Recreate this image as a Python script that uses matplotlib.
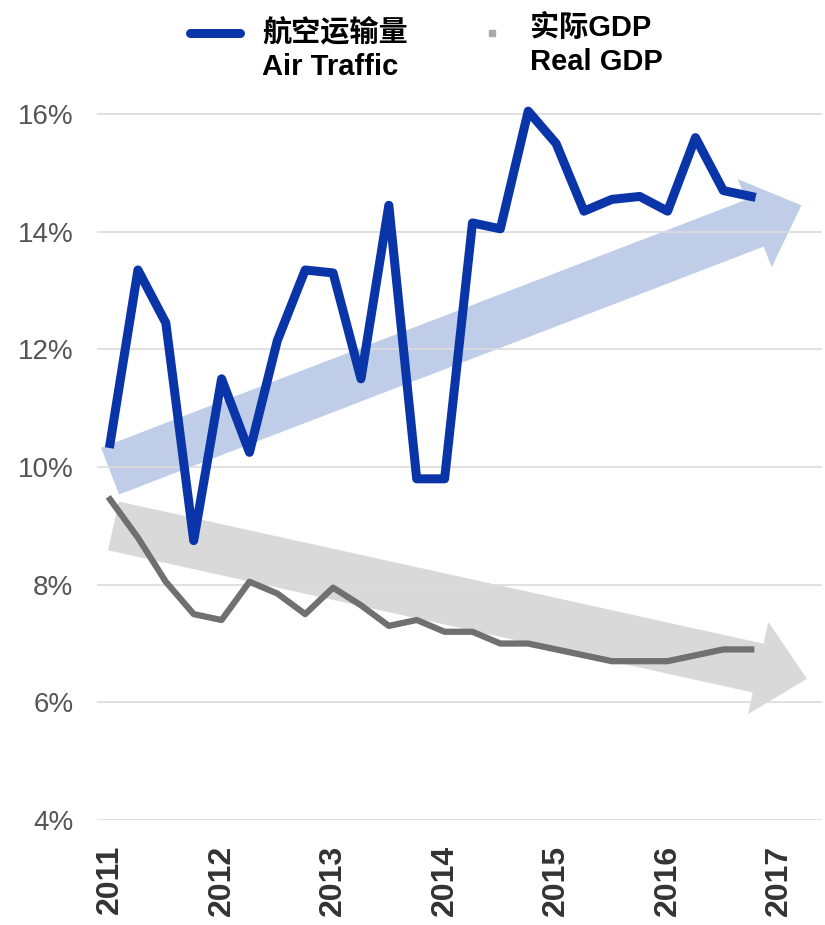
import matplotlib
matplotlib.use("Agg")
import matplotlib.pyplot as plt
from matplotlib.patches import FancyArrowPatch
from matplotlib.lines import Line2D

# quarterly data (% year on year)
quarters = [2011.0, 2011.25, 2011.5, 2011.75,
            2012.0, 2012.25, 2012.5, 2012.75,
            2013.0, 2013.25, 2013.5, 2013.75,
            2014.0, 2014.25, 2014.5, 2014.75,
            2015.0, 2015.25, 2015.5, 2015.75,
            2016.0, 2016.25, 2016.5, 2016.75]
air_traffic = [10.4, 13.35, 12.45, 8.75, 11.5, 10.25, 12.15, 13.35,
               13.3, 11.5, 14.45, 9.8, 9.8, 14.15, 14.05, 16.05,
               15.5, 14.35, 14.55, 14.6, 14.35, 15.6, 14.7, 14.6]
real_gdp = [9.45, 8.8, 8.05, 7.5, 7.4, 8.05, 7.85, 7.5,
            7.95, 7.65, 7.3, 7.4, 7.2, 7.2, 7.0, 7.0,
            6.9, 6.8, 6.7, 6.7, 6.7, 6.8, 6.9, 6.9]

# trend arrows (start, end) in data units
air_trend = [(2011.0, 9.93), (2017.2, 14.45)]
gdp_trend = [(2011.03, 9.0), (2017.25, 6.4)]

year_ticks = [2011, 2012, 2013, 2014, 2015, 2016, 2017]
y_ticks = [4, 6, 8, 10, 12, 14, 16]
y_labels = ["4%", "6%", "8%", "10%", "12%", "14%", "16%"]

blue = "#0a35a8"
grey = "#707070"
fam = ["Liberation Sans", "Noto Sans CJK SC", "DejaVu Sans"]

fig = plt.figure(figsize=(8.25, 9.25), dpi=100)
ax = fig.add_axes([0.1176, 0.1135, 0.8788, 0.7835])

arrow_style = "simple,head_length=36,head_width=68,tail_width=36"
a1 = FancyArrowPatch(gdp_trend[0], gdp_trend[1], arrowstyle=arrow_style,
                     mutation_scale=1, shrinkA=0, shrinkB=0,
                     color="#d9d9d9", lw=0, zorder=1)
a2 = FancyArrowPatch(air_trend[0], air_trend[1], arrowstyle=arrow_style,
                     mutation_scale=1, shrinkA=0, shrinkB=0,
                     color="#bfcde8", lw=0, zorder=1)
ax.add_patch(a1)
ax.add_patch(a2)

ax.plot(quarters, real_gdp, color=grey, lw=4.5, zorder=3)
ax.plot(quarters, air_traffic, color=blue, lw=6.5, zorder=4)

ax.set_xlim(2010.883, 2017.385)
ax.set_ylim(4, 16.32)
ax.set_yticks(y_ticks)
ax.set_yticklabels(y_labels, family=fam, fontsize=20, color="#555555")
ax.set_xticks(year_ticks)
ax.set_xticklabels([str(y) for y in year_ticks], rotation=90, family=fam,
                   fontsize=23, fontweight="bold", color="#333333")
ax.tick_params(axis="y", length=0, pad=17)
ax.tick_params(axis="x", length=0, pad=18)
ax.grid(axis="y", color="#dcdcdc", lw=1.2, zorder=0)
ax.grid(axis="x", visible=False)
for s in ax.spines.values():
    s.set_visible(False)

# legend drawn by hand
fig.add_artist(Line2D([190/825, 240/825], [1-33/925, 1-33/925], color=blue,
                      lw=6.5, solid_capstyle="round"))
fig.add_artist(Line2D([492/825], [1-33/925], color="#aaaaaa", marker="s",
                      ms=5, lw=0))
fig.text(262/825, 1-33/925, "航空运输量", family=fam, fontsize=21,
         fontweight="bold", va="center", ha="left")
fig.text(262/825, 1-67/925, "Air Traffic", family=fam, fontsize=21,
         fontweight="bold", va="center", ha="left")
fig.text(530/825, 1-28/925, "实际GDP", family=fam, fontsize=21,
         fontweight="bold", va="center", ha="left")
fig.text(530/825, 1-62/925, "Real GDP", family=fam, fontsize=21,
         fontweight="bold", va="center", ha="left")

fig.savefig("out.png", dpi=100)
